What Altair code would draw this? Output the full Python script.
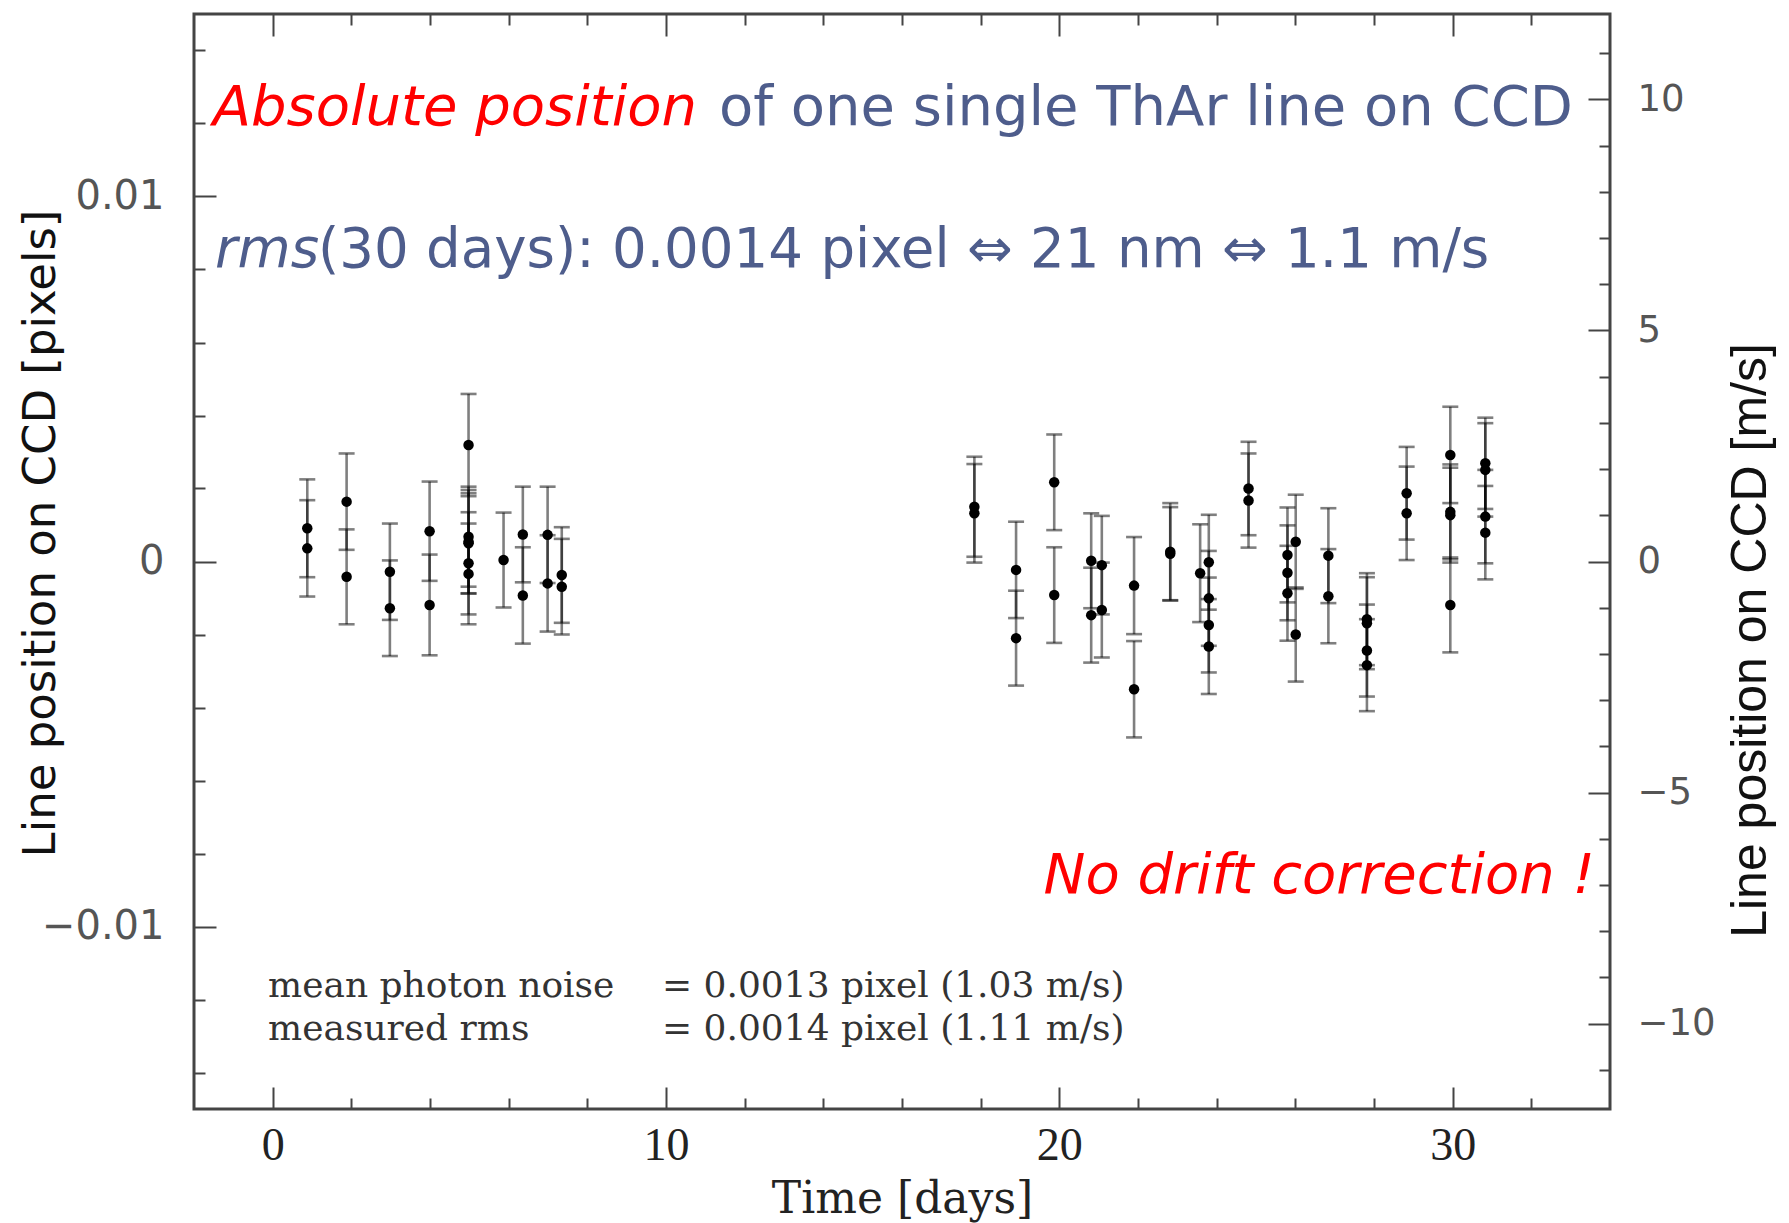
import altair as alt
import pandas as pd

# ---------------- data ----------------
days = [
    0.88, 0.88, 1.88, 1.88, 2.98, 2.98, 3.99, 3.99,
    4.98, 4.98, 4.98, 4.98, 4.98, 4.98, 5.87, 6.36, 6.36, 6.99, 6.99, 7.35, 7.35,
    17.84, 17.84, 18.90, 18.90, 19.87, 19.87, 20.81, 20.81, 21.08, 21.08,
    21.90, 21.90, 22.82, 22.82, 23.58, 23.80, 23.80, 23.80, 23.80,
    24.81, 24.81, 25.80, 25.80, 25.80, 26.01, 26.01, 26.84, 26.84,
    27.82, 27.82, 27.82, 27.82, 28.83, 28.83,
    29.94, 29.94, 29.94, 29.94, 30.83, 30.83, 30.83, 30.83,
]
values = [
    0.00091, 0.00036, 0.00164, -0.00042, -0.00028, -0.00128, 0.00083, -0.00119,
    0.00319, 0.00068, 0.00054, 0.00050, -0.00005, -0.00034, 0.00004, 0.00074, -0.00093, 0.00073, -0.00060, -0.00037, -0.00069,
    0.00150, 0.00132, -0.00023, -0.00210, 0.00217, -0.00092, 0.00002, -0.00147, -0.00010, -0.00133,
    -0.00066, -0.00350, 0.00027, 0.00021, -0.00032, -0.00002, -0.00101, -0.00174, -0.00233,
    0.00200, 0.00167, 0.00018, -0.00031, -0.00087, 0.00054, -0.00200, 0.00016, -0.00095,
    -0.00158, -0.00169, -0.00244, -0.00284, 0.00187, 0.00132,
    0.00292, 0.00136, 0.00127, -0.00119, 0.00269, 0.00251, 0.00123, 0.00079,
]
errors = [
    0.00134, 0.00132, 0.00132, 0.00130, 0.00132, 0.00131, 0.00136, 0.00138,
    0.00140, 0.00137, 0.00142, 0.00137, 0.00140, 0.00138, 0.00130, 0.00131, 0.00132, 0.00132, 0.00132, 0.00131, 0.00131,
    0.00137, 0.00135, 0.00132, 0.00130, 0.00131, 0.00131, 0.00130, 0.00130, 0.00135, 0.00130,
    0.00133, 0.00132, 0.00133, 0.00128, 0.00134, 0.00130, 0.00130, 0.00130, 0.00130,
    0.00128, 0.00129, 0.00130, 0.00130, 0.00130, 0.00129, 0.00129, 0.00130, 0.00129,
    0.00126, 0.00126, 0.00126, 0.00126, 0.00127, 0.00128,
    0.00132, 0.00130, 0.00130, 0.00130, 0.00125, 0.00128, 0.00128, 0.00128,
]

x_domain = [-2, 34]
y_domain = [-0.015, 0.015]          # pixels
MS_PER_PIXEL = 790.0                 # 0.0014 pixel <-> 1.1 m/s
x_tick_values = list(range(0, 33, 2))
y_tick_values = [round(-0.014 + 0.002 * i, 3) for i in range(15)]
ms_tick_values = list(range(-11, 12))

title_line1_red = "Absolute position"
title_line1_blue = "of one single ThAr line on CCD"
title_line2_it = "rms"
title_line2 = "(30 days): 0.0014 pixel \u21d4 21 nm \u21d4 1.1 m/s"
drift_text = "No drift correction !"
stat_labels = ["mean photon noise", "measured rms"]
stat_values = ["= 0.0013 pixel (1.03 m/s)", "= 0.0014 pixel (1.11 m/s)"]

df = pd.DataFrame({"day": days, "value": values, "err": errors})
df["lo"] = df["value"] - df["err"]
df["hi"] = df["value"] + df["err"]
df["ms"] = df["value"] * MS_PER_PIXEL

# ---------------- layout ----------------
W, H = 1416, 1095
PAD = {"left": 194, "top": 14, "right": 179, "bottom": 114}
FRAME = "#444444"
RED = "#ff0000"
BLUE = "#4e5d8c"

x_axis = alt.Axis(
    values=x_tick_values,
    labelExpr="datum.value % 10 == 0 ? datum.label : ''",
    ticks=False, domain=False, grid=True,
    gridColor=FRAME, gridWidth=2, gridOpacity=1,
    gridDash={"condition": {"test": "datum.value % 10 == 0", "value": [22, H - 44, 22, 5000]},
              "value": [11, H - 22, 11, 5000]},
    labelFont="Liberation Serif", labelFontSize=46, labelColor="#222", labelPadding=14,
    labelOverlap=False, labelFlush=False,
    title="Time [days]", titleFont="DejaVu Serif", titleFontSize=44, titleFontWeight="normal",
    titleColor="#222", titleBaseline="alphabetic", titleY=103, titleX=W / 2, titleAlign="center",
)

y_axis = alt.Axis(
    values=y_tick_values,
    labelExpr="abs(round(datum.value*1000)) % 10 == 0 ? (datum.value == 0 ? '0' : (datum.value < 0 ? '\u2212' : '') + format(abs(datum.value), '.2f')) : ''",
    ticks=False, domain=False, grid=True,
    gridColor=FRAME, gridWidth=2, gridOpacity=1,
    gridDash={"condition": {"test": "abs(round(datum.value*1000)) % 10 == 0", "value": [22, 5000]},
              "value": [11, 5000]},
    labelFont="DejaVu Sans", labelFontSize=40, labelColor="#555", labelPadding=30,
    labelOverlap=False, labelFlush=False,
    title="Line position on CCD [pixels]", titleFont="DejaVu Sans", titleFontSize=45,
    titleFontWeight="normal", titleColor="#111", titleAngle=270, titleBaseline="alphabetic",
    titleAlign="center", titleX=-140, titleY=519,
)

y2_axis = alt.Axis(
    orient="right",
    values=ms_tick_values,
    labelExpr="datum.value % 5 == 0 ? (datum.value < 0 ? '\u2212' + abs(datum.value) : '' + datum.value) : ''",
    ticks=False, domain=False, grid=True,
    gridColor=FRAME, gridWidth=2, gridOpacity=1,
    gridDash={"condition": {"test": "datum.value % 5 == 0", "value": [22, 5000]},
              "value": [11, 5000]},
    labelFont="DejaVu Sans", labelFontSize=37, labelColor="#555", labelPadding=27,
    labelOverlap=False, labelFlush=False,
    title="Line position on CCD [m/s]", titleFont="Liberation Sans", titleFontSize=50,
    titleFontWeight="normal", titleColor="#111", titleAngle=270, titleBaseline="alphabetic",
    titleAlign="center", titleX=155, titleY=626,
)

x_enc = alt.X("day:Q", scale=alt.Scale(domain=x_domain, nice=False, zero=False), axis=x_axis)
y_scale = alt.Scale(domain=y_domain, nice=False, zero=False)

base = alt.Chart(df)
bars = base.mark_rule(color="black", opacity=0.5, strokeWidth=2.6).encode(
    x=x_enc, y=alt.Y("lo:Q", scale=y_scale, axis=y_axis), y2="hi:Q")
caps_lo = base.mark_tick(orient="horizontal", size=16, thickness=2.6, color="black", opacity=0.5).encode(
    x=x_enc, y=alt.Y("lo:Q", scale=y_scale, axis=y_axis))
caps_hi = base.mark_tick(orient="horizontal", size=16, thickness=2.6, color="black", opacity=0.5).encode(
    x=x_enc, y=alt.Y("hi:Q", scale=y_scale, axis=y_axis))
dots = base.mark_circle(size=110, color="black", opacity=1).encode(
    x=x_enc, y=alt.Y("value:Q", scale=y_scale, axis=y_axis))
main = alt.layer(bars, caps_lo, caps_hi, dots)

right = base.mark_point(opacity=0).encode(
    x=x_enc,
    y=alt.Y("ms:Q", scale=alt.Scale(domain=[y_domain[0] * MS_PER_PIXEL, y_domain[1] * MS_PER_PIXEL],
                                    nice=False, zero=False), axis=y2_axis))


def txt(s, x, y, color, size, align="left", style="normal", font="DejaVu Sans", line_height=None):
    kw = {}
    if line_height is not None:
        kw = {"lineBreak": "\n", "lineHeight": line_height}
    return alt.Chart(pd.DataFrame({"t": [s]})).mark_text(
        align=align, baseline="alphabetic", color=color, fontSize=size,
        fontStyle=style, font=font, **kw).encode(x=alt.value(x), y=alt.value(y), text="t:N")


texts = [
    txt(title_line1_red, 503, 111, RED, 56, align="right", style="italic"),
    txt(title_line1_blue, 525, 111, BLUE, 56),
    txt(title_line2_it, 21, 253, BLUE, 54.6, style="italic"),
    txt(title_line2, 124, 253, BLUE, 54.6),
    txt(drift_text, 1401, 879, RED, 56, align="right", style="italic"),
    txt("\n".join(stat_labels), 74, 983, "#333", 36, font="DejaVu Serif", line_height=43),
    txt("\n".join(stat_values), 468, 983, "#333", 36, font="DejaVu Serif", line_height=43),
]

chart = alt.layer(main, right, *texts).resolve_scale(y="independent").properties(
    width=W, height=H,
    autosize=alt.AutoSizeParams(type="none"),
    padding=PAD,
    background="white",
).configure_view(stroke=FRAME, strokeWidth=3)

chart.save("out.html", embed_options={"renderer": "svg", "actions": False})
